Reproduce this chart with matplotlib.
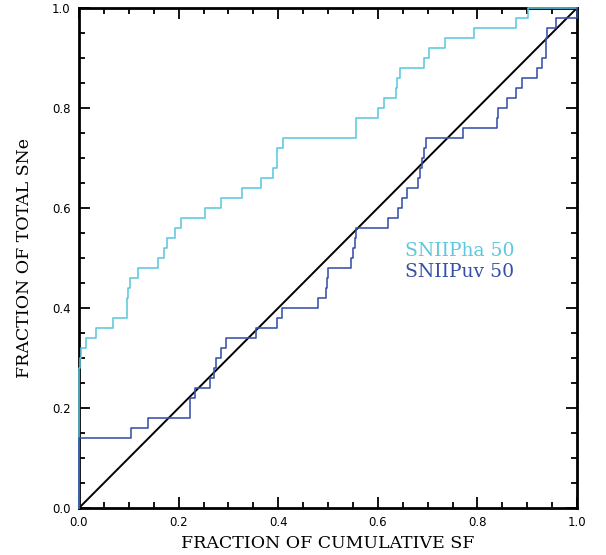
import numpy as np
import matplotlib
matplotlib.use('Agg')
import matplotlib.pyplot as plt
from matplotlib.ticker import MultipleLocator

# step positions (fraction of cumulative SF) and level after each step
ha_x = [0.0, 0.0, 0.002, 0.004, 0.015, 0.034, 0.069, 0.097, 0.099, 0.102,
        0.119, 0.159, 0.171, 0.176, 0.193, 0.204, 0.253, 0.286, 0.327, 0.365,
        0.390, 0.398, 0.409, 0.556, 0.601, 0.612, 0.636, 0.639, 0.645, 0.692,
        0.702, 0.734, 0.793, 0.878, 0.902, 1.0]
ha_y = [0.0, 0.28, 0.30, 0.32, 0.34, 0.36, 0.38, 0.42, 0.44, 0.46,
        0.48, 0.50, 0.52, 0.54, 0.56, 0.58, 0.60, 0.62, 0.64, 0.66,
        0.68, 0.72, 0.74, 0.78, 0.80, 0.82, 0.84, 0.86, 0.88, 0.90,
        0.92, 0.94, 0.96, 0.98, 1.00, 1.00]

uv_x = [0.0, 0.0, 0.104, 0.138, 0.222, 0.223, 0.233, 0.263, 0.272, 0.276,
        0.285, 0.296, 0.355, 0.398, 0.408, 0.479, 0.495, 0.498, 0.500, 0.546,
        0.550, 0.554, 0.556, 0.620, 0.641, 0.648, 0.658, 0.681, 0.685, 0.688,
        0.692, 0.697, 0.772, 0.840, 0.841, 0.860, 0.878, 0.889, 0.919, 0.929,
        0.938, 0.940, 0.958, 0.9995, 1.0]
uv_y = [0.0, 0.14, 0.16, 0.18, 0.20, 0.22, 0.24, 0.26, 0.28, 0.30,
        0.32, 0.34, 0.36, 0.38, 0.40, 0.42, 0.44, 0.46, 0.48, 0.50,
        0.52, 0.54, 0.56, 0.58, 0.60, 0.62, 0.64, 0.66, 0.68, 0.70,
        0.72, 0.74, 0.76, 0.78, 0.80, 0.82, 0.84, 0.86, 0.88, 0.90,
        0.94, 0.96, 0.98, 1.00, 1.00]

labels = ['SNIIPha 50', 'SNIIPuv 50']
colors = ['#5cc8dd', '#3650a8']

fig = plt.figure(figsize=(6.06, 5.55), dpi=100)
ax = fig.add_axes([79/606, 1-508/555, 498/606, 500/555])

ax.plot([0, 1], [0, 1], color='black', lw=1.4)
ax.step(ha_x, ha_y, where='post', color=colors[0], lw=1.15, zorder=3, clip_on=False)
ax.step(uv_x, uv_y, where='post', color=colors[1], lw=1.15, zorder=4, clip_on=False)

ax.set_xlim(0, 1)
ax.set_ylim(0, 1)
ax.xaxis.set_major_locator(MultipleLocator(0.2))
ax.yaxis.set_major_locator(MultipleLocator(0.2))
ax.xaxis.set_minor_locator(MultipleLocator(0.05))
ax.yaxis.set_minor_locator(MultipleLocator(0.05))
ax.xaxis.set_major_formatter(lambda v, p: f'{v:.1f}')
ax.yaxis.set_major_formatter(lambda v, p: f'{v:.1f}')
ax.tick_params(which='both', direction='in', top=True, right=True,
               width=1.3, labelsize=8.5, pad=6)
ax.tick_params(which='major', length=8)
ax.tick_params(which='minor', length=4)
for s in ax.spines.values():
    s.set_linewidth(2)

serif = ['DejaVu Serif']
ax.set_xlabel('FRACTION OF CUMULATIVE SF', family=serif, fontsize=12.5, labelpad=4)
ax.set_ylabel('FRACTION OF TOTAL SNe', family=serif, fontsize=12.5, labelpad=14)

ax.text(0.655, 0.515, labels[0], color=colors[0], family=serif, fontsize=13.5,
        transform=ax.transAxes, va='center')
ax.text(0.655, 0.472, labels[1], color=colors[1], family=serif, fontsize=13.5,
        transform=ax.transAxes, va='center')

fig.savefig('out.png', dpi=100)
